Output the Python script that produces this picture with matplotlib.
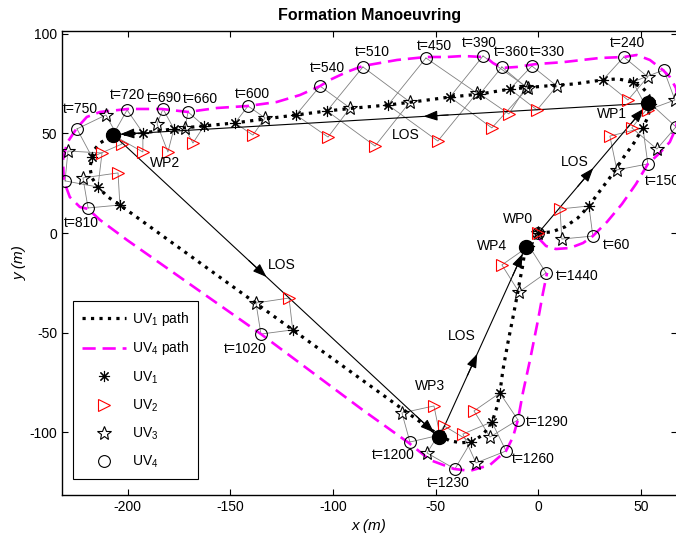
import matplotlib
matplotlib.use("Agg")
import matplotlib.pyplot as plt
import numpy as np

plt.rcParams["font.family"] = ["Liberation Sans", "DejaVu Sans"]
plt.rcParams["mathtext.fontset"] = "custom"
plt.rcParams["mathtext.rm"] = "Liberation Sans"
plt.rcParams["mathtext.it"] = "Liberation Sans:italic"
plt.rcParams["mathtext.default"] = "regular"
plt.rcParams["axes.unicode_minus"] = False

# Waypoints of the manoeuvre (m)
wp_names = ["WP0", "WP1", "WP2", "WP3", "WP4"]
wp_x = [0.0, 53.6, -207.0, -48.2, -6.2]
wp_y = [0.0, 65.2, 49.4, -102.6, -7.2]
wp_label_x = [-9.9, 35.9, -181.9, -52.8, -22.6]
wp_label_y = [7.0, 59.8, 35.2, -76.7, -6.5]

# LOS annotations, one per leg
los_label_x = [17.9, -64.5, -124.8, -37.2]
los_label_y = [35.6, 49.2, -16.0, -51.7]

# UV1 (leader) path
uv1_path_x = [0.0, 6.7, 13.0, 19.3, 24.7, 30.0, 35.9, 41.7, 46.6, 51.0, 53.4, 54.9,
              53.9, 51.0, 46.1, 38.8, 31.5, 17.9, 3.3, -13.8, -28.4, -43.0, -57.6,
              -73.2, -89.3, -102.9, -118.0, -133.1, -147.7, -162.8, -177.5, -192.6,
              -207.2, -213.5, -216.4, -217.4, -218.4, -217.4, -214.5, -209.6, -203.8,
              -119.6, -52.8, -47.9, -43.0, -37.7, -32.3, -27.0, -22.6, -20.1, -18.7,
              -17.2, -14.8, -12.3, -10.4, -8.9, -7.5, -6.5]
uv1_path_y = [0.0, 0.6, 3.1, 7.6, 13.6, 21.1, 29.2, 38.2, 45.2, 52.8, 58.3, 64.8,
              69.3, 72.8, 75.9, 77.4, 76.9, 74.9, 73.8, 72.3, 69.8, 68.3, 66.3,
              64.3, 62.8, 61.3, 59.3, 57.3, 55.3, 53.8, 52.3, 50.3,
              49.2, 45.2, 41.7, 38.2, 32.7, 27.7, 23.1, 18.1, 14.1,
              -48.6, -98.3, -101.8, -104.3, -105.3, -104.8, -101.3, -95.3, -87.3, -80.3,
              -68.7, -55.2, -42.2, -32.1, -23.5, -16.0, -8.5]

# UV4 (outer) path
uv4_path_x = [0.0, 3.8, 8.6, 15.4, 21.8, 26.6, 33.5, 40.8, 47.6, 53.4, 59.2, 64.1,
              67.1, 68.5, 67.1, 64.1, 60.7, 54.4, 48.0, 41.7, 30.0, 12.0, -1.6,
              -10.4, -17.7, -22.1, -25.0, -26.9, -36.7, -44.5, -54.7, -68.8, -85.4,
              -93.2, -101.5, -106.3, -116.1, -127.4, -141.4, -156.5, -170.6, -183.3,
              -199.9, -213.5, -219.9, -224.7, -229.6, -231.5, -231.1, -228.2, -223.3,
              -219.3, -213.5, -200.3, -135.1, -85.4, -63.0, -52.8, -41.1, -33.3,
              -23.5, -15.7, -12.3, -9.9, -7.5, -4.0, -0.1, 2.3, 4.3]
uv4_path_y = [-2.4, -6.5, -8.0, -7.5, -5.0, -1.5, 5.6, 14.6, 24.6, 34.7, 40.2, 45.7,
              52.7, 61.7, 72.8, 78.4, 81.9, 86.9, 89.4, 88.4, 87.9, 85.8, 84.8,
              83.4, 82.9, 85.4, 87.9, 88.4, 88.9, 88.4, 88.4, 86.9, 83.9,
              80.9, 76.9, 73.8, 69.3, 65.8, 63.8, 62.8, 60.8, 62.3,
              62.3, 60.8, 58.3, 52.8, 45.2, 36.7, 26.2, 18.1, 13.1,
              12.1, 6.6, -3.5, -50.7, -88.9, -105.4, -113.9, -118.4, -119.4,
              -116.4, -109.4, -102.4, -93.8, -80.3, -63.7, -43.6, -30.1, -20.0]

# Formation snapshots: time (s) and vehicle positions (m)
snap_t = [0, 60, 150, 180, 210, 240, 330, 360, 390, 450, 510, 540, 600, 660, 690,
          720, 750, 780, 810, 1020, 1200, 1230, 1260, 1290, 1440]
uv1_x = [0.0, 24.7, 51.0, 54.9, 46.1, 31.5, -13.8, -28.4, -43.0, -73.2, -102.9, -118.0,
         -147.7, -162.8, -177.5, -192.6, -217.4, -214.5, -203.8, -119.6, -47.9, -32.8,
         -22.6, -18.7, -4.5]
uv1_y = [0.0, 13.6, 52.8, 64.8, 75.9, 76.9, 72.3, 69.8, 68.3, 64.3, 61.3, 59.3,
         55.3, 53.8, 52.3, 50.3, 38.2, 23.1, 14.1, -48.6, -101.4, -104.9,
         -94.8, -80.3, -6.5]
uv2_x = [0.0, 10.6, 34.9, 45.6, 53.4, 43.7, -0.6, -14.3, -22.6, -48.9, -79.5, -102.4,
         -139.0, -168.2, -180.4, -192.6, -202.8, -212.5, -204.7, -121.4, -50.8, -45.9,
         -36.7, -31.3, -17.7]
uv2_y = [0.0, 12.1, 48.7, 52.8, 61.8, 66.8, 61.8, 59.8, 52.8, 46.2, 43.7, 48.2,
         49.2, 45.2, 40.7, 40.7, 44.7, 40.2, 30.2, -32.6, -86.8, -96.8,
         -100.9, -89.3, -16.0]
uv3_x = [0.0, 11.5, 38.3, 57.8, 66.6, 53.4, 9.1, -6.0, -5.0, -29.9, -62.5, -91.7,
         -133.1, -172.1, -185.7, -207.2, -210.6, -229.1, -221.8, -137.5, -66.4, -54.2,
         -30.3, -23.5, -9.4]
uv3_y = [0.0, -3.0, 31.7, 42.2, 66.8, 78.4, 73.8, 73.3, 72.8, 70.3, 65.8, 62.8,
         57.8, 52.8, 54.8, 49.2, 59.3, 41.2, 27.7, -35.1, -90.3, -110.4,
         -115.4, -102.4, -29.6]
uv4_x = [0.0, 26.6, 53.4, 67.1, 61.2, 41.7, -3.1, -17.7, -26.9, -54.7, -85.4, -106.3,
         -141.4, -170.6, -182.8, -200.3, -224.7, -230.5, -219.3, -135.1, -62.5, -40.6,
         -15.7, -9.9, 3.8]
uv4_y = [0.0, -1.5, 34.7, 53.3, 81.9, 88.4, 83.9, 83.4, 88.9, 87.9, 83.4, 73.8,
         63.8, 60.8, 62.3, 61.8, 52.3, 26.2, 12.6, -50.7, -104.9, -118.4,
         -109.4, -93.8, -20.0]

# Time tags placed beside the outer vehicle
tag_t = [60, 150, 240, 330, 360, 390, 450, 510, 540, 600, 660, 690, 720, 750, 810,
         1020, 1200, 1230, 1260, 1290, 1440]
tag_x = [31.7, 52.0, 34.9, -4.0, -21.4, -37.3, -58.9, -89.3, -111.5, -147.7, -173.2,
         -190.7, -208.6, -231.7, -230.9, -153.4, -81.1, -54.4, -13.0, -6.0, 8.6]
tag_y = [-6.0, 26.1, 95.3, 91.1, 91.1, 95.3, 94.1, 90.8, 82.7, 69.8, 67.2, 67.7, 69.3,
         62.1, 5.2, -58.3, -111.4, -125.3, -113.6, -95.0, -21.4]

# where the mid-leg LOS arrowheads sit (fraction of each leg)
los_tip_frac = [0.5, 0.42, 0.47, 0.44]

fig = plt.figure(figsize=(6.76, 5.35), dpi=100)
ax = fig.add_axes([62 / 676, 40 / 535, 615 / 676, 464.3 / 535])

# formation links UV4-UV1-UV2-UV3-UV4 for each snapshot
for i in range(len(snap_t)):
    qx = [uv4_x[i], uv1_x[i], uv2_x[i], uv3_x[i], uv4_x[i]]
    qy = [uv4_y[i], uv1_y[i], uv2_y[i], uv3_y[i], uv4_y[i]]
    ax.plot(qx, qy, color="0.5", lw=0.6, zorder=1)

# LOS legs between waypoints
for i in range(len(wp_x) - 1):
    p0 = np.array([wp_x[i], wp_y[i]])
    p1 = np.array([wp_x[i + 1], wp_y[i + 1]])
    ax.plot([p0[0], p1[0]], [p0[1], p1[1]], color="k", lw=0.8, zorder=2)
    d = p1 - p0
    u = d / np.linalg.norm(d)
    style = "-|>,head_length=0.6,head_width=0.22"
    tip = p0 + los_tip_frac[i] * d
    ax.annotate("", xy=tip, xytext=tip - 12 * u,
                arrowprops=dict(arrowstyle=style, color="k", lw=0.8,
                                mutation_scale=14, shrinkA=0, shrinkB=0),
                zorder=3)
    tip = p1 - 3.5 * u
    ax.annotate("", xy=tip, xytext=tip - 12 * u,
                arrowprops=dict(arrowstyle=style, color="k", lw=0.8,
                                mutation_scale=14, shrinkA=0, shrinkB=0),
                zorder=3)
    ax.text(los_label_x[i], los_label_y[i], "LOS", fontsize=10,
            ha="center", va="center", zorder=5)

h_p1, = ax.plot(uv1_path_x, uv1_path_y, color="k", ls=":", lw=2.3,
                label="UV$_1$ path", zorder=2)
h_p4, = ax.plot(uv4_path_x, uv4_path_y, color="#ff00ff", ls=(0, (5, 2.6)), lw=1.9,
                label="UV$_4$ path", zorder=2)

h4, = ax.plot(uv4_x, uv4_y, ls="none", marker="o", ms=8.5, mfc="none", mec="k",
              mew=0.8, label="UV$_4$", zorder=3)
h3, = ax.plot(uv3_x, uv3_y, ls="none", marker="*", ms=10, mfc="none", mec="k",
              mew=0.8, label="UV$_3$", zorder=3)
h1, = ax.plot(uv1_x, uv1_y, ls="none", marker=(8, 2, 0), ms=8, mec="k",
              mew=0.8, label="UV$_1$", zorder=3)
h2, = ax.plot(uv2_x, uv2_y, ls="none", marker=">", ms=8.5, mfc="none", mec="r",
              mew=0.8, label="UV$_2$", zorder=3)

ax.plot(wp_x[1:], wp_y[1:], ls="none", marker="o", ms=10, color="k", zorder=4)
for name, lx, ly in zip(wp_names, wp_label_x, wp_label_y):
    ax.text(lx, ly, name, fontsize=10, ha="center", va="center", zorder=5)

for t, lx, ly in zip(tag_t, tag_x, tag_y):
    ax.text(lx, ly, f"t={t}", fontsize=10, ha="left", va="center", zorder=5,
            clip_on=True)

ax.set_xlim(-232, 67.6)
ax.set_ylim(-131.5, 101.6)
ax.set_xticks([-200, -150, -100, -50, 0, 50])
ax.set_yticks([-100, -50, 0, 50, 100])
ax.tick_params(direction="in", top=True, right=True, length=4, labelsize=10)
for s in ax.spines.values():
    s.set_linewidth(1.0)

ax.set_xlabel("x (m)", fontsize=11, style="italic", labelpad=4)
ax.set_ylabel("y (m)", fontsize=11, style="italic", labelpad=2)
ax.set_title("Formation Manoeuvring", fontsize=11.5, fontweight="bold", pad=8)

leg = ax.legend(handles=[h_p1, h_p4, h1, h2, h3, h4], loc="lower left",
                bbox_to_anchor=(0.0174, 0.0338), borderaxespad=0, fontsize=10,
                handlelength=3.2, handletextpad=0.4, labelspacing=0.85,
                borderpad=0.65, fancybox=False, framealpha=1, edgecolor="k")
leg.get_frame().set_linewidth(0.8)

fig.savefig("out.png", dpi=100)
